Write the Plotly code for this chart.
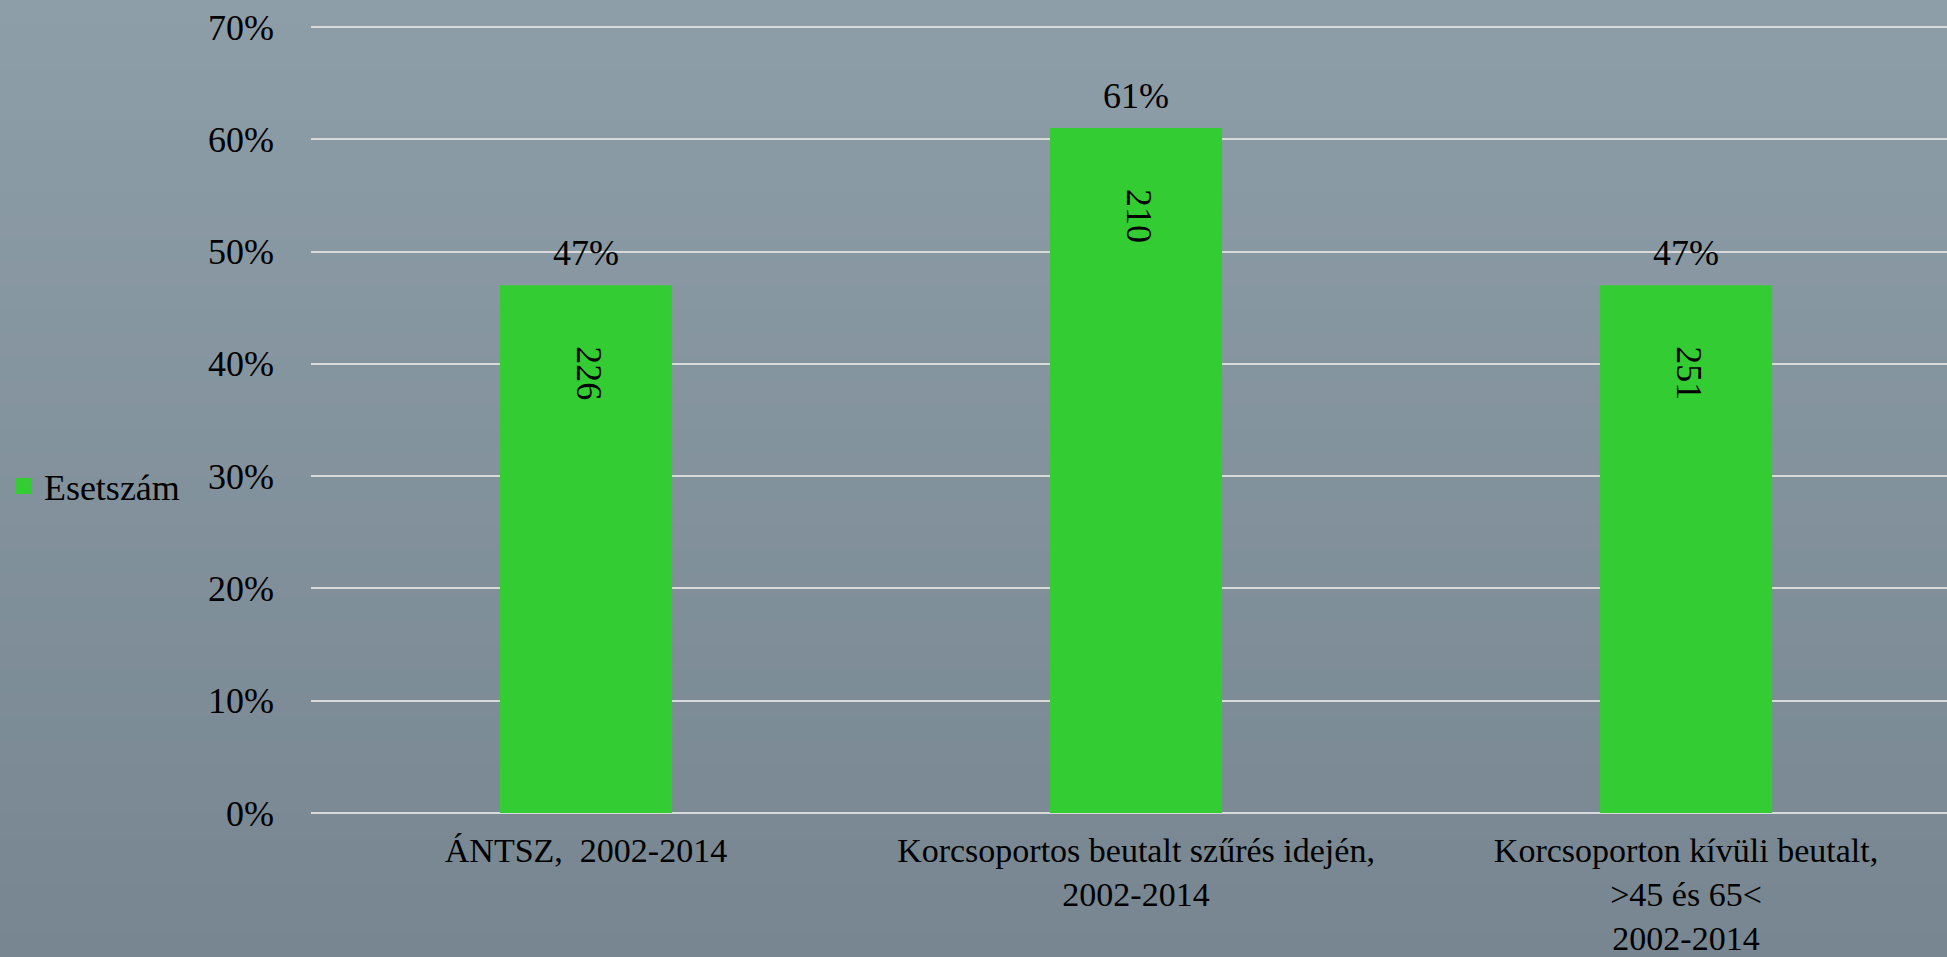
import plotly.graph_objects as go

# adatok
categories = [
    "ÁNTSZ,\u00a0 2002-2014",
    "Korcsoportos beutalt szűrés idején,<br>2002-2014",
    "Korcsoporton kívüli beutalt,<br>&gt;45 és 65&lt;<br>2002-2014",
]
shares = [0.47, 0.61, 0.47]          # arány (bar magasság)
counts = [226, 210, 251]             # esetszám (oszlopon belüli felirat)
y_ticks = [0, 0.1, 0.2, 0.3, 0.4, 0.5, 0.6, 0.7]

FONT = "Liberation Serif, Times New Roman, serif"
GREEN = "#33CC33"
W, H = 1947, 957
ML, MT, MB = 311, 25, 142
YPAD = 0.00177                       # kis ráhagyás, hogy a 0% és 70% rácsvonal is látszódjon

fig = go.Figure()
fig.add_trace(go.Bar(x=categories, y=shares, name="Esetszám", width=0.313, showlegend=False,
                     marker=dict(color=GREEN, line_width=0), hoverinfo="skip"))
# jelmagyarázat nagyobb négyzettel
fig.add_trace(go.Scatter(x=[None], y=[None], mode="markers", name="Esetszám",
                         marker=dict(symbol="square", size=18, color=GREEN, line_width=0)))

# feliratok: % az oszlop fölött, esetszám elforgatva az oszlopon belül
for c, s, n in zip(categories, shares, counts):
    fig.add_annotation(x=c, y=s, text=f"{round(s * 100)}%", showarrow=False,
                       yanchor="middle", yshift=32, font=dict(size=36, color="black", family=FONT))
    fig.add_annotation(x=c, y=s, text=str(n), showarrow=False, textangle=90,
                       yanchor="middle", yshift=-88, xshift=3,
                       font=dict(size=36, color="black", family=FONT))

# háttér: függőleges szürkéskék színátmenet sávokból
top, bot = (0x8e, 0x9e, 0xa8), (0x77, 0x86, 0x90)
nb = 40
plot_h = H - MT - MB
plot_w = W - ML
shapes = []
for i in range(nb):
    t = i / (nb - 1)
    col = "rgb(%d,%d,%d)" % tuple(round(a + (b - a) * t) for a, b in zip(top, bot))
    top_px = i * H / nb - 1
    bot_px = (i + 1) * H / nb + 1
    shapes.append(dict(type="rect", xref="paper", yref="paper", layer="below",
                       x0=-ML / plot_w - 0.01, x1=1.01,
                       y1=(H - MB - top_px) / plot_h, y0=(H - MB - bot_px) / plot_h,
                       fillcolor=col, line_width=0))

fig.update_layout(
    width=W, height=H,
    margin=dict(l=ML, r=0, t=MT, b=MB, pad=0),
    paper_bgcolor="rgb(130,145,155)", plot_bgcolor="rgba(0,0,0,0)",
    font=dict(family=FONT, size=36, color="black"),
    shapes=shapes,
    showlegend=True,
    legend=dict(xref="container", yref="container", x=0.002, y=0.492, xanchor="left",
                yanchor="middle", font=dict(size=36), bgcolor="rgba(0,0,0,0)",
                itemclick=False),
)
fig.update_xaxes(range=[-0.5, 2.4745], showgrid=False, showline=False, zeroline=False,
                 automargin=False, ticks="", tickfont=dict(size=34), ticklabelstandoff=12)
fig.update_yaxes(range=[-YPAD, 0.7 + YPAD], tickvals=y_ticks, tickformat=".0%", showline=False,
                 automargin=False, zeroline=False, showgrid=True, gridcolor="#d9d9d9", gridwidth=2,
                 ticks="", ticklabelstandoff=36, tickfont=dict(size=36))

fig.write_html("out.html", config={"displayModeBar": False},
               post_script="document.body.style.margin='0';document.body.style.overflow='hidden';")
